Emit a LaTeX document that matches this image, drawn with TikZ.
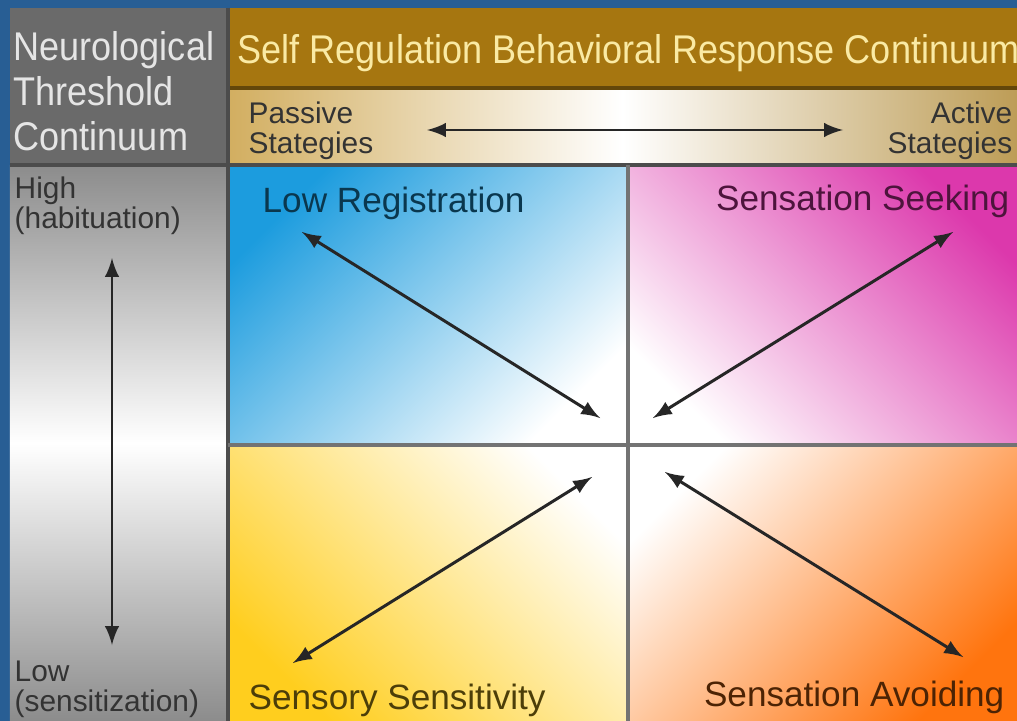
\documentclass[tikz,border=0pt]{standalone}
\usepackage{fontspec}
\setmainfont{Liberation Sans}
\newfontfamily\condfont[FakeStretch=0.9]{Liberation Sans}
\usetikzlibrary{arrows}

\definecolor{frameblue}{RGB}{40,94,148}
\definecolor{headgray}{RGB}{106,106,106}
\definecolor{headbrown}{RGB}{166,118,16}
\definecolor{titletext}{RGB}{250,234,164}
\definecolor{bandtan}{RGB}{210,174,96}
\definecolor{sidegray}{RGB}{140,140,140}
\definecolor{lowreg}{RGB}{28,156,222}
\definecolor{seeking}{RGB}{220,56,172}
\definecolor{sensitive}{RGB}{255,206,30}
\definecolor{avoiding}{RGB}{255,116,14}

\begin{document}
\begin{tikzpicture}[x=0.1mm, y=-0.1mm, >=latex,
  rule/.style={draw=black!70, line width=0.9pt},
  conn/.style={<->, line width=0.85pt, black!85},
  small/.style={inner sep=0, align=left, font=\fontsize{8.5}{8.6}\selectfont, text=black!80},
  quad/.style={inner sep=0, font=\fontsize{10}{12}\selectfont}]
\useasboundingbox (0,0) rectangle (1017,721);
\fill[frameblue] (0,0) rectangle (1017,721);

% header cells
\fill[headgray] (10,8) rectangle (228,165);
\fill[headbrown] (228,8) rectangle (1017,88);
\shade[left color=bandtan, right color=bandtan!90!black, middle color=white] (228,88) rectangle (1017,165);
\shade[top color=sidegray, bottom color=sidegray, middle color=white] (10,165) rectangle (228,721);

% quadrants
\shade[top color=lowreg, bottom color=white, shading angle=45] (228,165) rectangle (628,445);
\shade[top color=seeking, bottom color=white, shading angle=-45] (628,165) rectangle (1017,445);
\shade[top color=white, bottom color=sensitive, shading angle=-45] (228,445) rectangle (628,721);
\shade[top color=white, bottom color=avoiding, shading angle=45] (628,445) rectangle (1017,721);

% rules
\draw[rule, draw=headbrown!60!black] (228,88) -- (1017,88);
\draw[rule] (10,165) -- (1017,165);
\draw[rule] (228,8) -- (228,721);
\draw[rule, draw=black!55] (628,165) -- (628,721);
\draw[rule, draw=black!55] (228,445) -- (1017,445);

% texts
\node (neuro) [anchor=north west, inner sep=0, align=left, text=black!10,
  font=\condfont\fontsize{11.4}{12.8}\selectfont] at (13,31) {Neurological\\Threshold\\Continuum};
\node (title) [anchor=base west, inner sep=0, text=titletext,
  font=\condfont\fontsize{11.4}{12.8}\selectfont] at (237,63) {Self Regulation Behavioral Response Continuum};
\node (passive) [small, anchor=north west] at (248,101) {Passive\\Stategies};
\node (active) [small, anchor=north east, align=right] at (1013,101) {Active\\Stategies};
\node (high) [small, anchor=north west] at (14,176) {High\\(habituation)};
\node (low) [small, anchor=north west] at (14,660) {Low\\(sensitization)};
\node (reg) [quad, anchor=base west, text=lowreg!35!black] at (262,213) {Low Registration};
\node (seek) [quad, anchor=base east, text=seeking!35!black] at (1010,210) {Sensation Seeking};
\node (sens) [quad, anchor=base west, text=sensitive!30!black] at (248,709) {Sensory Sensitivity};
\node (avoid) [quad, anchor=base east, text=avoiding!30!black] at (1005,706) {Sensation Avoiding};

% arrow ends
\coordinate (passEnd) at (427,130);
\coordinate (actEnd) at (843,130);
\coordinate (highEnd) at (112,258);
\coordinate (lowEnd) at (112,645);
\coordinate (regOut) at (302,232);
\coordinate (regIn) at (600,418);
\coordinate (seekOut) at (953,232);
\coordinate (seekIn) at (653,418);
\coordinate (sensOut) at (293,663);
\coordinate (sensIn) at (592,477);
\coordinate (avoidOut) at (963,657);
\coordinate (avoidIn) at (665,472);

\draw[conn] (passEnd) -- (actEnd);
\draw[conn] (highEnd) -- (lowEnd);
\draw[conn] (regOut) -- (regIn);
\draw[conn] (seekOut) -- (seekIn);
\draw[conn] (sensOut) -- (sensIn);
\draw[conn] (avoidOut) -- (avoidIn);
\end{tikzpicture}
\end{document}
